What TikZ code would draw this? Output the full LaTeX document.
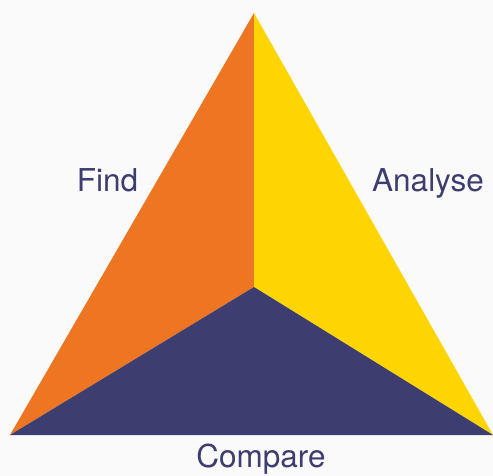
\documentclass[tikz,border=0pt]{standalone}
\usepackage{fontspec}
\setmainfont{TeX Gyre Heros}
\usepackage{xcolor}
\usepackage{tikz}
\usetikzlibrary{positioning,calc}
\definecolor{bgGrey}{HTML}{FAFAFA}
\definecolor{findOrange}{HTML}{EE7623}
\definecolor{analyseYellow}{HTML}{FFD500}
\definecolor{compareNavy}{HTML}{3E3D70}
\tikzset{
     face/.style={draw=none},
     label/.style={anchor=base, text=compareNavy, font=\fontsize{31.5}{36}\selectfont, inner sep=0pt}
     }

\begin{document}
\begin{tikzpicture}[x=1pt,y=-1pt]
    \fill [bgGrey] (0,0) rectangle (493,476);
    \useasboundingbox (0,0) rectangle (493,476);
    \coordinate (T) at (254,13);
    \coordinate (L) at (10,435);
    \coordinate (R) at (493,435);
    \coordinate (C) at (254,287);

    \fill [face, findOrange] (T) -- (C) -- (L) -- cycle;
    \fill [face, analyseYellow] (T) -- (R) -- (C) -- cycle;
    \fill [face, compareNavy] (L) -- (C) -- (R) -- cycle;

    \node [label] (find) at (107.5,192) {Find};
    \node [label] (analyse) at (428,192) {Analyse};
    \node [label] (compare) at (261,467) {Compare};
\end{tikzpicture}
\end{document}
